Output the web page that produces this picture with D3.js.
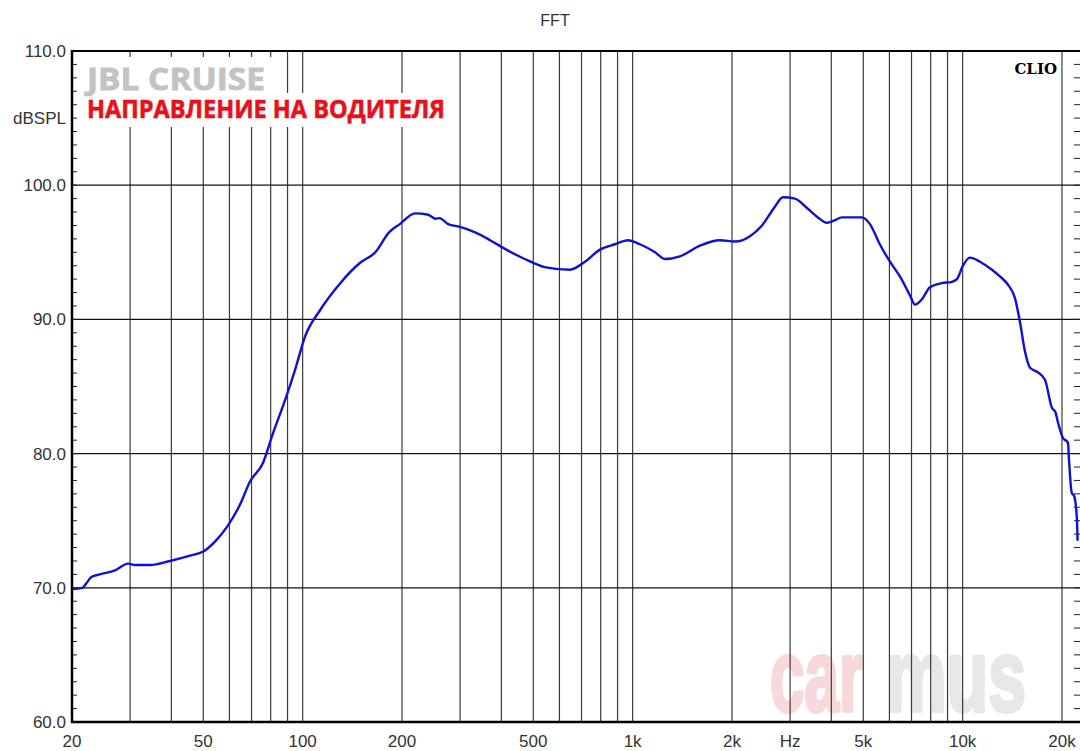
<!DOCTYPE html>
<html>
<head>
<meta charset="utf-8">
<script src="https://cdn.jsdelivr.net/npm/d3@7"></script>
<style>
  body { margin: 0; background: #fff; }
  svg { display: block; }
</style>
</head>
<body>
<div id="chart"></div>
<script>
// response curve
const freqs = [20, 21.5, 22.2, 22.9, 24.3, 27, 29.6, 31, 34.5, 39.6, 45.6, 50, 54.5, 59.2, 64.6, 69.2, 75.8, 81, 88.5, 95, 101.6,
  113, 130, 149, 166, 183, 197, 219, 240, 253, 260, 276, 300, 332, 370, 414, 471, 541, 646,
  717, 796, 884, 968, 1052, 1169, 1253, 1391, 1600, 1839, 2042, 2268, 2466, 2698, 2854, 3104, 3375, 3643, 3880,
  4102, 4306, 4555, 4953, 5236, 5610, 6022, 6457, 6920, 7170, 7528, 7962, 8650, 9282, 9610, 10020, 10520,
  11280, 12270, 12970, 13710, 14400, 14920, 15450, 16000, 16800, 17760, 18660, 19100, 19460, 20100, 20860,
  21000, 21400, 21800, 22200, 22300];
const spl = [69.9, 70.0, 70.4, 70.8, 71.0, 71.3, 71.8, 71.7, 71.7, 72.0, 72.4, 72.7, 73.5, 74.6, 76.2, 77.9, 79.3, 81.4, 84.0, 86.3, 88.7,
  90.7, 92.7, 94.2, 95.0, 96.5, 97.1, 97.9, 97.8, 97.5, 97.55, 97.1, 96.9, 96.5, 95.9, 95.2, 94.5, 93.9, 93.7,
  94.3, 95.2, 95.6, 95.9, 95.6, 95.0, 94.5, 94.7, 95.5, 95.9, 95.8, 96.2, 97.0, 98.4, 99.1, 99.0, 98.3, 97.6, 97.2,
  97.4, 97.6, 97.6, 97.6, 97.1, 95.6, 94.3, 93.2, 91.8, 91.1, 91.5, 92.4, 92.7, 92.8, 93.0, 94.0, 94.6,
  94.3, 93.7, 93.2, 92.6, 91.6, 89.8, 87.6, 86.4, 86.1, 85.5, 83.4, 83.1, 82.3, 81.2, 80.8,
  79.6, 77.1, 76.8, 75.1, 73.5];

const gridFreqs = [30, 40, 50, 60, 70, 80, 90, 100, 200, 300, 400, 500, 600, 700, 800, 900,
  1000, 2000, 3000, 4000, 5000, 6000, 7000, 8000, 9000, 10000, 20000];
const xTickVals = [20, 50, 100, 200, 500, 1000, 2000, 3000, 5000, 10000, 20000];
const xTickLabels = ["20", "50", "100", "200", "500", "1k", "2k", "Hz", "5k", "10k", "20k"];
const yTickVals = [60, 70, 80, 90, 100, 110];

const W = 1080, H = 751;
const margin = {top: 51, right: 0, bottom: 29, left: 72};

const svg = d3.select("#chart").append("svg")
  .attr("width", W).attr("height", H);

const x = d3.scaleLog()
  .domain([20, 22680])
  .range([margin.left, W - margin.right]);
const y = d3.scaleLinear()
  .domain([60, 110])
  .range([H - margin.bottom, margin.top]);

// watermark first, grid goes over it
const wm = svg.append("g").attr("font-family", "Liberation Sans, Arial, sans-serif")
  .attr("font-weight", "bold").attr("font-size", 102)
  .attr("stroke-width", 4).attr("stroke-linejoin", "round");
wm.append("text").attr("x", 770).attr("y", 711).attr("fill", "#f7d9d9").attr("stroke", "#f7d9d9")
  .attr("textLength", 93).attr("lengthAdjust", "spacingAndGlyphs").text("car");
wm.append("text").attr("x", 886).attr("y", 711).attr("fill", "#e7e7e7").attr("stroke", "#e7e7e7")
  .attr("textLength", 140).attr("lengthAdjust", "spacingAndGlyphs").text("mus");

// grid
svg.append("g").selectAll("line").data(gridFreqs).join("line")
  .attr("x1", d => x(d)).attr("x2", d => x(d))
  .attr("y1", y(110)).attr("y2", y(60))
  .attr("stroke", "#3a3a3a").attr("stroke-width", 1.2);
svg.append("g").selectAll("line").data([70, 80, 90, 100]).join("line")
  .attr("x1", margin.left).attr("x2", W)
  .attr("y1", d => y(d)).attr("y2", d => y(d))
  .attr("stroke", "#111").attr("stroke-width", 1.2);

// minor dB ticks on left and right
const minor = d3.range(61, 110);
svg.append("g").selectAll("line").data(minor).join("line")
  .attr("x1", margin.left).attr("x2", margin.left + 5)
  .attr("y1", d => y(d)).attr("y2", d => y(d))
  .attr("stroke", "#222");
svg.append("g").selectAll("line").data(minor).join("line")
  .attr("x1", W - 6).attr("x2", W)
  .attr("y1", d => y(d)).attr("y2", d => y(d))
  .attr("stroke", "#222");

// title boxes (white background hides the grid)
svg.append("rect").attr("x", 82).attr("y", 57).attr("width", 192).attr("height", 36).attr("fill", "#fff");
svg.append("rect").attr("x", 82).attr("y", 93).attr("width", 368).attr("height", 34).attr("fill", "#fff");
svg.append("text").attr("x", 87).attr("y", 90)
  .attr("font-family", "Open Sans, sans-serif").attr("font-weight", "bold")
  .attr("font-size", 31).attr("fill", "#c3c3c3")
  .attr("stroke", "#c3c3c3").attr("stroke-width", 0.8)
  .attr("textLength", 178).attr("lengthAdjust", "spacingAndGlyphs")
  .text("JBL CRUISE");
svg.append("text").attr("x", 87).attr("y", 118)
  .attr("font-family", "Open Sans, sans-serif").attr("font-weight", "bold")
  .attr("font-size", 25).attr("fill", "#e8101c")
  .attr("stroke", "#e8101c").attr("stroke-width", 0.6)
  .attr("textLength", 358).attr("lengthAdjust", "spacingAndGlyphs")
  .text("НАПРАВЛЕНИЕ НА ВОДИТЕЛЯ");

svg.append("text").attr("x", 1057).attr("y", 74).attr("text-anchor", "end")
  .attr("font-family", "DejaVu Serif, serif").attr("font-weight", "bold")
  .attr("font-size", 15).attr("fill", "#000").text("CLIO");

// curve
const line = d3.line()
  .x((d, i) => x(freqs[i]))
  .y(d => y(d))
  .curve(d3.curveMonotoneX);
svg.append("path").datum(spl)
  .attr("d", line)
  .attr("fill", "none")
  .attr("stroke", "#1010d0")
  .attr("stroke-width", 2.4)
  .attr("stroke-linejoin", "round");

// frame
svg.append("line").attr("x1", margin.left - 1).attr("x2", W).attr("y1", y(110)).attr("y2", y(110))
  .attr("stroke", "#000").attr("stroke-width", 2);
svg.append("line").attr("x1", margin.left - 1).attr("x2", W).attr("y1", y(60)).attr("y2", y(60))
  .attr("stroke", "#000").attr("stroke-width", 2.5);
svg.append("line").attr("x1", margin.left).attr("x2", margin.left).attr("y1", y(110) - 1).attr("y2", y(60) + 1)
  .attr("stroke", "#000").attr("stroke-width", 2.5);

// axes labels
const lab = svg.append("g").attr("font-family", "Liberation Sans, Arial, sans-serif")
  .attr("font-size", 17).attr("fill", "#333");
lab.selectAll(".yl").data(yTickVals).join("text")
  .attr("class", "yl")
  .attr("x", 66).attr("y", d => y(d) + 6)
  .attr("text-anchor", "end")
  .text(d => d.toFixed(1));
lab.selectAll(".xl").data(xTickVals).join("text")
  .attr("class", "xl")
  .attr("x", d => x(d)).attr("y", 747)
  .attr("text-anchor", "middle")
  .text((d, i) => xTickLabels[i]);
lab.append("text").attr("x", 66).attr("y", 124).attr("text-anchor", "end").text("dBSPL");
lab.append("text").attr("x", 555).attr("y", 26).attr("text-anchor", "middle").attr("font-size", 16).text("FFT");
</script>
</body>
</html>
